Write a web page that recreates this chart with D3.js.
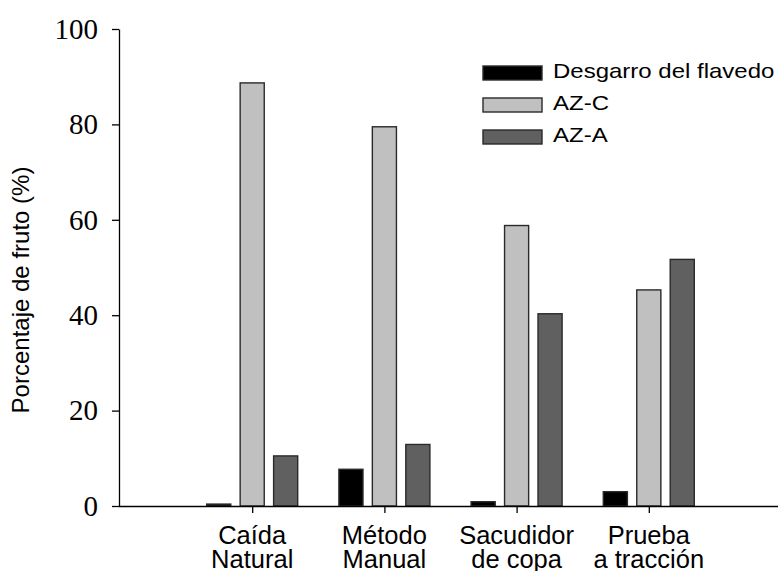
<!DOCTYPE html>
<html>
<head>
<meta charset="utf-8">
<script src="https://cdn.jsdelivr.net/npm/d3@7"></script>
<style>
  body { margin: 0; background: #fff; }
  svg { display: block; }
</style>
</head>
<body>
<div id="chart"></div>
<script>
// data
var categories = [["Caída", "Natural"], ["Método", "Manual"], ["Sacudidor", "de copa"], ["Prueba", "a tracción"]];
var seriesNames = ["Desgarro del flavedo", "AZ-C", "AZ-A"];
var desgarro = [0.4, 7.7, 0.9, 3.0];
var azC = [88.7, 79.5, 58.8, 45.3];
var azA = [10.5, 12.9, 40.3, 51.7];
var yTicks = [0, 20, 40, 60, 80, 100];

var colors = ["#000000", "#c0c0c0", "#606060"];
var width = 778, height = 571;

var svg = d3.select("#chart")
    .append("svg")
    .attr("width", width)
    .attr("height", height);

var catKeys = categories.map(c => c.join(" "));
var seriesValues = [desgarro, azC, azA];

//scales
var x = d3.scalePoint()
    .domain(catKeys)
    .range([120, 781])
    .padding(1);
var xInner = d3.scaleBand()
    .domain(seriesNames)
    .range([-45.5, 45.5])
    .paddingInner(0.28);
var y = d3.scaleLinear()
    .domain([0, 100])
    .range([506, 29]);

//bars
var rows = [];
catKeys.forEach((k, i) => {
    seriesNames.forEach((s, j) => {
        rows.push({cat: k, series: s, value: seriesValues[j][i], color: colors[j]});
    });
});

svg.selectAll("rect.bar")
    .data(rows)
    .enter()
    .append("rect")
    .classed("bar", true)
    .attr("x", d => x(d.cat) + xInner(d.series))
    .attr("width", xInner.bandwidth())
    .attr("y", d => y(d.value))
    .attr("height", d => y(0) - y(d.value))
    .style("fill", d => d.color)
    .style("stroke", "#2a2a2a")
    .style("stroke-width", 1.4);

//y axis
var yAxis = svg.append("g")
    .attr("transform", "translate(119,0)")
    .call(d3.axisLeft(y).tickValues(yTicks).tickSize(7).tickPadding(14).tickSizeOuter(0));
yAxis.select(".domain").style("stroke", "#000").style("stroke-width", 1.3);
yAxis.selectAll(".tick line").style("stroke", "#000").style("stroke-width", 1.3);
yAxis.selectAll(".tick text")
    .style("font-family", "'Liberation Serif', 'Times New Roman', serif")
    .style("font-size", "29px")
    .style("fill", "#000");

//x axis
var xAxis = svg.append("g")
    .attr("transform", "translate(0,506)")
    .call(d3.axisBottom(x).tickSize(7).tickSizeOuter(0).tickFormat(""));
xAxis.select(".domain").attr("d", "M119,0.5H781").style("stroke", "#000").style("stroke-width", 1.3);
xAxis.selectAll(".tick line").style("stroke", "#000").style("stroke-width", 1.3);

var xLabels = svg.selectAll("text.xlab")
    .data(categories)
    .enter()
    .append("text")
    .classed("xlab", true)
    .attr("x", (d, i) => x(catKeys[i]))
    .attr("y", 544)
    .attr("text-anchor", "middle")
    .style("font-family", "'Liberation Sans', Arial, sans-serif")
    .style("font-size", "25.5px")
    .style("fill", "#000");
xLabels.append("tspan")
    .attr("x", (d, i) => x(catKeys[i]))
    .text(d => d[0]);
xLabels.append("tspan")
    .attr("x", (d, i) => x(catKeys[i]))
    .attr("dy", 24)
    .text(d => d[1]);

//y axis title
svg.append("text")
    .attr("transform", "translate(29,290) rotate(-90)")
    .attr("text-anchor", "middle")
    .style("font-family", "'Liberation Sans', Arial, sans-serif")
    .style("font-size", "24px")
    .style("fill", "#000")
    .text("Porcentaje de fruto (%)");

//legend
var legend = svg.selectAll("g.legend")
    .data(seriesNames)
    .enter()
    .append("g")
    .classed("legend", true)
    .attr("transform", (d, i) => "translate(483," + (66 + i * 32) + ")");
legend.append("rect")
    .attr("width", 59)
    .attr("height", 14)
    .style("fill", (d, i) => colors[i])
    .style("stroke", "#2a2a2a")
    .style("stroke-width", 1.4);
legend.append("text")
    .attr("transform", "translate(70,12) scale(1.2,1)")
    .style("font-family", "'Liberation Sans', Arial, sans-serif")
    .style("font-size", "20px")
    .style("fill", "#000")
    .text(d => d);
</script>
</body>
</html>
